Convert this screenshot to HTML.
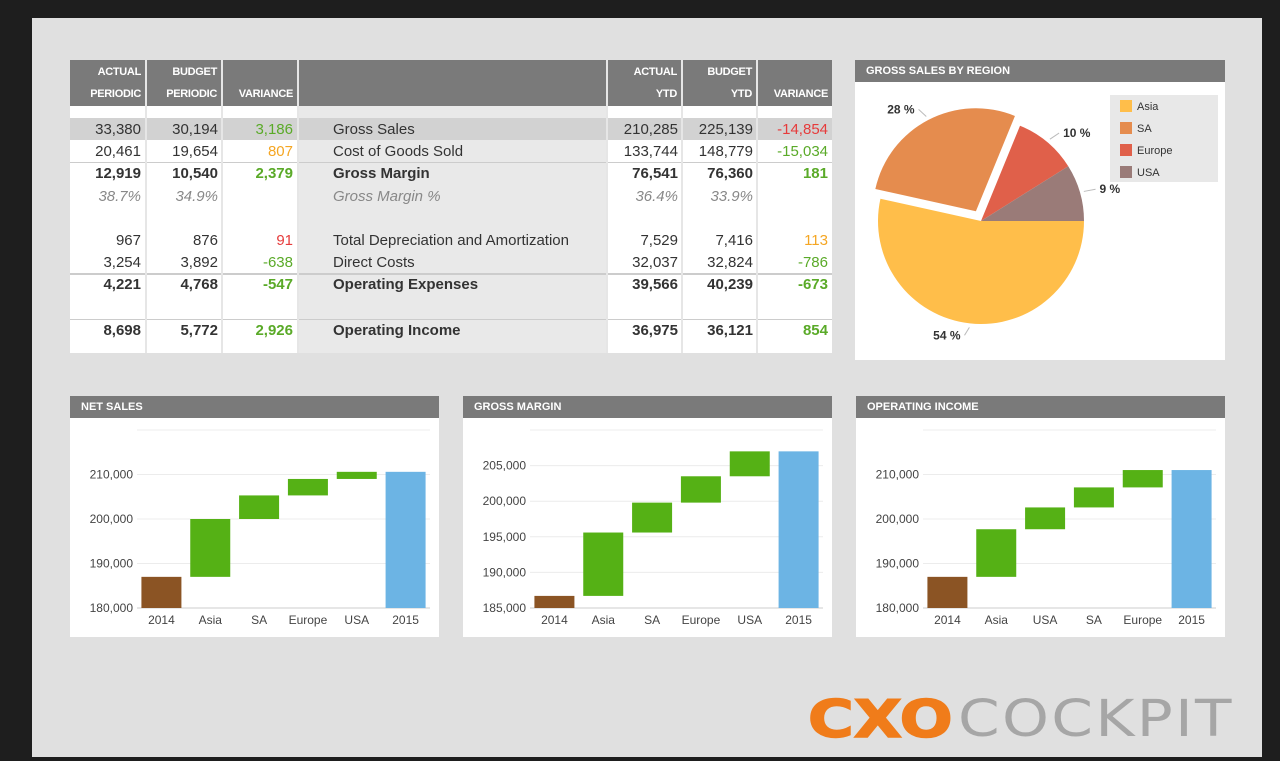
<!DOCTYPE html>
<html><head><meta charset="utf-8">
<style>
body{margin:0;width:1280px;height:761px;background:#1e1e1e;position:relative;overflow:hidden;font-family:"Liberation Sans",Arial,sans-serif;}
#frame{position:absolute;left:32px;top:18px;width:1230px;height:739px;background:#e0e0e0;}
.abs{position:absolute;}
#tbl{position:absolute;left:70px;top:60px;width:762px;height:293px;background:#fff;}
.hdr{position:absolute;top:0;height:46px;background:#7a7a7a;color:#fff;font-size:11px;font-weight:bold;letter-spacing:-0.3px;}
.hdr div{position:absolute;right:4px;}
.cell{position:absolute;font-size:15px;color:#333;white-space:nowrap;line-height:22px;}
.r{text-align:right;}
.g{color:#5aaa28}.o{color:#f5a623}.red{color:#e63b3b}
.b{font-weight:bold}.i{font-style:italic;color:#888}
.ptitle{position:absolute;left:0;top:0;right:0;height:22px;background:#7a7a7a;color:#fff;font-size:11px;font-weight:bold;line-height:22px;padding-left:11px;}
.panel{position:absolute;background:#fff;}
</style></head><body>
<div id="frame"></div>

<div id="tbl">
  <div class="abs" style="left:229px;top:46px;width:308px;height:247px;background:#e9e9e9"></div>
  <div class="abs" style="left:0;top:58px;width:762px;height:22px;background:#d2d2d2"></div>
  <div class="abs" style="left:0;top:102px;width:762px;height:1px;background:#ccc"></div>
  <div class="abs" style="left:0;top:213px;width:762px;height:2px;background:#ccc"></div>
  <div class="abs" style="left:0;top:259px;width:762px;height:1px;background:#ccc"></div>
  <div class="abs" style="left:75px;top:0;width:2px;height:293px;background:#e6e6e6"></div>
  <div class="abs" style="left:151px;top:0;width:2px;height:293px;background:#e6e6e6"></div>
  <div class="abs" style="left:227px;top:0;width:2px;height:293px;background:#e6e6e6"></div>
  <div class="abs" style="left:536px;top:0;width:2px;height:293px;background:#e6e6e6"></div>
  <div class="abs" style="left:611px;top:0;width:2px;height:293px;background:#e6e6e6"></div>
  <div class="abs" style="left:686px;top:0;width:2px;height:293px;background:#e6e6e6"></div>
  <div class="hdr" style="left:0;width:75px"><div style="top:6px">ACTUAL</div><div style="top:28px">PERIODIC</div></div>
  <div class="hdr" style="left:77px;width:74px"><div style="top:6px">BUDGET</div><div style="top:28px">PERIODIC</div></div>
  <div class="hdr" style="left:153px;width:74px"><div style="top:28px">VARIANCE</div></div>
  <div class="hdr" style="left:229px;width:307px"></div>
  <div class="hdr" style="left:538px;width:73px"><div style="top:6px">ACTUAL</div><div style="top:28px">YTD</div></div>
  <div class="hdr" style="left:613px;width:73px"><div style="top:6px">BUDGET</div><div style="top:28px">YTD</div></div>
  <div class="hdr" style="left:688px;width:74px"><div style="top:28px">VARIANCE</div></div>
  <div id="rows"></div>
</div>

<div class="panel" style="left:855px;top:60px;width:370px;height:300px">
  <div class="ptitle">GROSS SALES BY REGION</div>
  <svg id="pie" width="370" height="300" style="position:absolute;left:0;top:0"></svg>
</div>

<div class="panel" style="left:70px;top:396px;width:369px;height:241px">
  <div class="ptitle">NET SALES</div>
  <svg id="wf1" width="369" height="241" style="position:absolute;left:0;top:0"></svg>
</div>
<div class="panel" style="left:463px;top:396px;width:369px;height:241px">
  <div class="ptitle">GROSS MARGIN</div>
  <svg id="wf2" width="369" height="241" style="position:absolute;left:0;top:0"></svg>
</div>
<div class="panel" style="left:856px;top:396px;width:369px;height:241px">
  <div class="ptitle">OPERATING INCOME</div>
  <svg id="wf3" width="369" height="241" style="position:absolute;left:0;top:0"></svg>
</div>

<div class="abs" style="left:808px;top:690px;font-size:52px;font-weight:bold;color:#f07c1a;line-height:60px;font-family:'DejaVu Sans','Liberation Sans',sans-serif;transform:scaleX(1.2);transform-origin:0 0;-webkit-text-stroke:1.5px #f07c1a">CXO</div>
<div class="abs" style="left:958px;top:690px;font-size:51px;color:#a6a6a6;letter-spacing:2px;line-height:60px;font-family:'DejaVu Sans','Liberation Sans',sans-serif;transform:scaleX(1.17);transform-origin:0 0">COCKPIT</div>

<script>
// ---- table data ----
const rowLabels=["Gross Sales","Cost of Goods Sold","Gross Margin","Gross Margin %","Total Depreciation and Amortization","Direct Costs","Operating Expenses","Operating Income"];
const rowTops=[58,80,102,125,169,191,213,259];
const rowStyle=["","","b","i","","","b","b"];
const actP=["33,380","20,461","12,919","38.7%","967","3,254","4,221","8,698"];
const budP=["30,194","19,654","10,540","34.9%","876","3,892","4,768","5,772"];
const varP=["3,186","807","2,379","","91","-638","-547","2,926"];
const varPc=["g","o","g","","red","g","g","g"];
const actY=["210,285","133,744","76,541","36.4%","7,529","32,037","39,566","36,975"];
const budY=["225,139","148,779","76,360","33.9%","7,416","32,824","40,239","36,121"];
const varY=["-14,854","-15,034","181","","113","-786","-673","854"];
const varYc=["red","g","g","","o","g","g","g"];
const rowsEl=document.getElementById('rows');
function cell(txt,left,width,cls,top,r){
  const d=document.createElement('div');
  d.className='cell '+cls+(r?' r':'');
  d.style.left=left+'px';d.style.width=width+'px';d.style.top=(top+1)+'px';
  d.textContent=txt;
  
  
  rowsEl.appendChild(d);
}
rowLabels.forEach((l,i)=>{
  const t=rowTops[i],s=rowStyle[i];
  cell(actP[i],0,71,s,t,1);
  cell(budP[i],77,71,s,t,1);
  cell(varP[i],153,70,(s==='b'?'b ':'')+varPc[i],t,1);
  cell(l,263,270,s,t,0);
  cell(actY[i],538,70,s,t,1);
  cell(budY[i],613,70,s,t,1);
  cell(varY[i],688,70,(s==='b'?'b ':'')+varYc[i],t,1);
});

// ---- pie ----
const pieLabels=["Asia","SA","Europe","USA"];
const pieValues=[54,28,10,9];
const pieColors=["#ffbe4a","#e58c4e","#e0604a","#9a7b78"];
const NS='http://www.w3.org/2000/svg';
function el(tag,attrs,parent){const e=document.createElementNS(NS,tag);for(const k in attrs)e.setAttribute(k,attrs[k]);parent.appendChild(e);return e;}
(function(){
  const svg=document.getElementById('pie');
  const cx=126,cy=161,R=103;
  const tot=pieValues.reduce((a,b)=>a+b,0);
  let a0=0;
  pieValues.forEach((v,i)=>{
    const a1=a0+v/tot*2*Math.PI;
    const mid=(a0+a1)/2;
    const off=i===1?11:0;
    const ox=cx+off*Math.cos(mid),oy=cy+off*Math.sin(mid);
    const large=(a1-a0)>Math.PI?1:0;
    const p=el('path',{d:`M${ox},${oy} L${ox+R*Math.cos(a0)},${oy+R*Math.sin(a0)} A${R},${R} 0 ${large} 1 ${ox+R*Math.cos(a1)},${oy+R*Math.sin(a1)} Z`,fill:pieColors[i]},svg);
    
    
    const lx=ox+(R+12)*Math.cos(mid),ly=oy+(R+12)*Math.sin(mid);
    const lx2=ox+(R+4)*Math.cos(mid),ly2=oy+(R+4)*Math.sin(mid);
    el('line',{x1:lx2,y1:ly2,x2:lx+(Math.cos(mid)>0?4:-4),y2:ly,stroke:'#bbb'},svg);
    const t=el('text',{x:lx+(Math.cos(mid)>0?8:-8),y:ly+4,'font-size':12,'font-weight':'bold',fill:'#333','text-anchor':Math.cos(mid)>0?'start':'end'},svg);
    t.textContent=v+' %';
    
    
    a0=a1;
  });
  const lg=el('rect',{x:255,y:35,width:108,height:87,fill:'#e8e8e8'},svg);
  
  
  pieLabels.forEach((l,i)=>{
    el('rect',{x:265,y:40+i*22,width:12,height:12,fill:pieColors[i]},svg);
    const t=el('text',{x:282,y:50+i*22,'font-size':11,fill:'#333'},svg);
    t.textContent=l;
    
    
  });
})();

// ---- waterfalls ----
const wf1Cats=["2014","Asia","SA","Europe","USA","2015"];
const wf1Vals=[187000,13000,5300,3700,1600,210600];
const wf1Ticks=[180000,190000,200000,210000,220000];
const wf2Cats=["2014","Asia","SA","Europe","USA","2015"];
const wf2Vals=[186700,8900,4200,3700,3500,207000];
const wf2Ticks=[185000,190000,195000,200000,205000,210000];
const wf3Cats=["2014","Asia","USA","SA","Europe","2015"];
const wf3Vals=[187000,10700,4900,4500,3900,211000];
const wf3Ticks=[180000,190000,200000,210000,220000];

function waterfall(id,cats,vals,ticks){
  const svg=document.getElementById(id);
  const x0=67,x1=360,yb=212,yt=34;
  const mn=ticks[0],mx=ticks[ticks.length-1];
  const y=v=>yb-(v-mn)/(mx-mn)*(yb-yt);
  const bw=(x1-x0)/cats.length;
  ticks.forEach((t,i)=>{
    el('line',{x1:x0,x2:x1,y1:y(t),y2:y(t),stroke:i===0?'#ccc':'#ececec','stroke-width':1},svg);
    if(i<ticks.length-1){
      const tx=el('text',{x:63,y:y(t)+4,'font-size':12,fill:'#444','text-anchor':'end'},svg);
      tx.textContent=t.toLocaleString('en-US');
      
      
    }
  });
  let run=0;
  cats.forEach((c,i)=>{
    let lo,hi,col;
    if(i===0){lo=mn;hi=vals[i];run=hi;col='#8b5424';}
    else if(i===cats.length-1){lo=mn;hi=vals[i];col='#6cb4e4';}
    else{lo=run;hi=run+vals[i];run=hi;col='#55b115';}
    const cxp=x0+bw*(i+0.5);
    const r=el('rect',{x:cxp-20,y:y(hi),width:40,height:y(lo)-y(hi),fill:col},svg);
    
    
    const t=el('text',{x:cxp,y:228,'font-size':12,fill:'#444','text-anchor':'middle'},svg);
    t.textContent=c;
    
    
  });
}
waterfall('wf1',wf1Cats,wf1Vals,wf1Ticks);
waterfall('wf2',wf2Cats,wf2Vals,wf2Ticks);
waterfall('wf3',wf3Cats,wf3Vals,wf3Ticks);
</script>
</body></html>
